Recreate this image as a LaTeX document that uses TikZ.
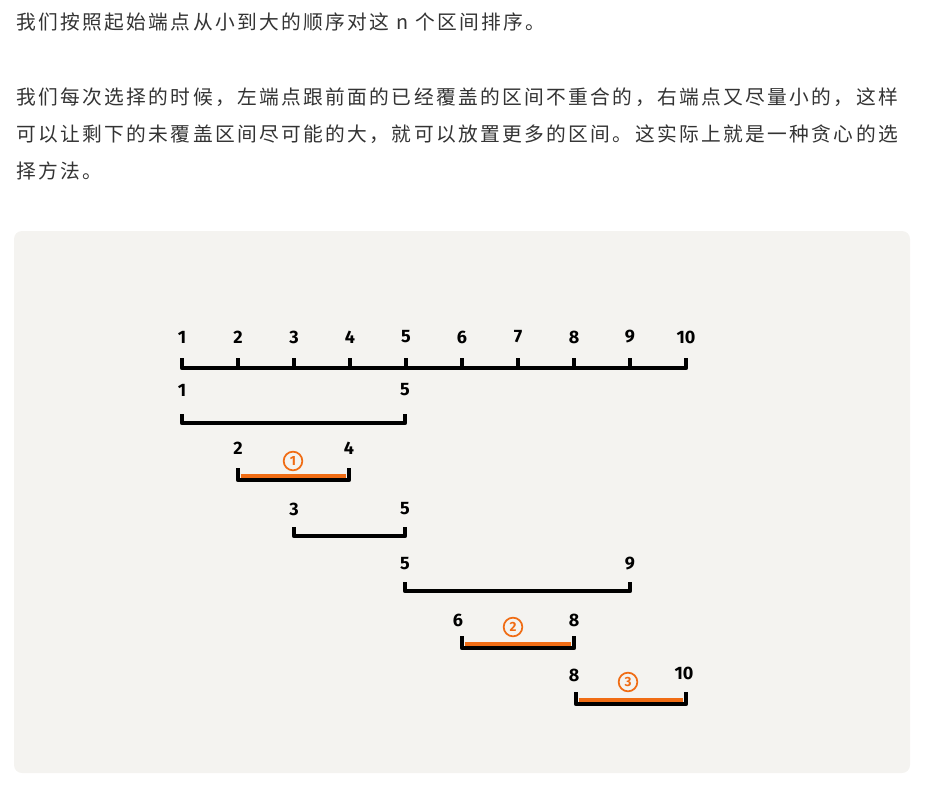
\documentclass[tikz,border=0pt]{standalone}
\usepackage{fontspec}
\newfontfamily\cjk[LetterSpace=12]{Noto Sans CJK SC}
\newfontfamily\hand{Fira Sans}
\usetikzlibrary{positioning}
\definecolor{paneltint}{RGB}{244,243,240}
\definecolor{markorange}{RGB}{240,108,20}
\definecolor{textgray}{RGB}{51,51,51}

\begin{document}
\begin{tikzpicture}[
    x=0.75pt, y=-0.75pt,
    para/.style={anchor=base west, inner sep=0pt, text=textgray, font=\cjk\fontsize{14.8pt}{17pt}\selectfont},
    numlabel/.style={inner sep=0pt, font=\hand\bfseries\fontsize{13.5pt}{13.5pt}\selectfont},
    blackbar/.style={line width=3.3pt, line join=round},
    orangebar/.style={line width=3.3pt, draw=markorange},
    circnum/.style={circle, draw=markorange, text=markorange, line width=1.3pt, minimum size=14pt, inner sep=0pt, font=\hand\bfseries\fontsize{10pt}{10pt}\selectfont}
]
    \useasboundingbox (0,0) rectangle (932,796);

    % text above the figure
    \node[para] (intro) at (16,29) {我们按照起始端点从小到大的顺序对这 n 个区间排序。};
    \node[para] (pick1) at (16,104) {我们每次选择的时候，左端点跟前面的已经覆盖的区间不重合的，右端点又尽量小的，这样};
    \node[para] (pick2) at (16,141) {可以让剩下的未覆盖区间尽可能的大，就可以放置更多的区间。这实际上就是一种贪心的选};
    \node[para] (pick3) at (16,178) {择方法。};

    \fill[paneltint, rounded corners=6pt] (14,231) rectangle (910,773);

    % number line 1..10
    \coordinate (ax1) at (182,368);
    \coordinate (ax10) at (686,368);
    \draw[blackbar] (ax1) ++(0,-10) -- (ax1) -- (ax10) -- ++(0,-10);
    \foreach \i in {1,...,10} {
        \draw[blackbar] (182+56*\i-56,368) -- ++(0,-10);
        \node[numlabel] (lab\i) at (182+56*\i-56,337) {\i};
    }

    % [1,5]
    \coordinate (onea) at (182,423);
    \coordinate (oneb) at (405,423);
    \node[numlabel, above=20pt of onea] (onel) {1};
    \node[numlabel, above=20pt of oneb] (oner) {5};
    \draw[blackbar] (onea) ++(0,-9) -- (onea) -- (oneb) -- ++(0,-9);

    % [2,4] chosen first
    \coordinate (twoa) at (238,480);
    \coordinate (twob) at (349,480);
    \node[numlabel] (twol) at (238,448) {2};
    \node[numlabel] (twor) at (349,448) {4};
    \draw[blackbar] (twoa) ++(0,-12) -- (twoa) -- (twob) -- ++(0,-12);
    \draw[orangebar] ([xshift=2pt,yshift=3pt]twoa) -- ([xshift=-2pt,yshift=3pt]twob);
    \node[circnum] (pickone) at (293,461) {1};

    % [3,5]
    \coordinate (threea) at (294,536);
    \coordinate (threeb) at (405,536);
    \node[numlabel] (threel) at (294,509) {3};
    \node[numlabel] (threer) at (405,509) {5};
    \draw[blackbar] (threea) ++(0,-9) -- (threea) -- (threeb) -- ++(0,-9);

    % [5,9]
    \coordinate (foura) at (405,591);
    \coordinate (fourb) at (630,591);
    \node[numlabel] (fourl) at (405,564) {5};
    \node[numlabel] (fourr) at (630,564) {9};
    \draw[blackbar] (foura) ++(0,-9) -- (foura) -- (fourb) -- ++(0,-9);

    % [6,8] chosen second
    \coordinate (fivea) at (462,648);
    \coordinate (fiveb) at (574,648);
    \node[numlabel] (fivel) at (458,620) {6};
    \node[numlabel] (fiver) at (574,620) {8};
    \draw[blackbar] (fivea) ++(0,-12) -- (fivea) -- (fiveb) -- ++(0,-12);
    \draw[orangebar] ([xshift=2pt,yshift=3pt]fivea) -- ([xshift=-2pt,yshift=3pt]fiveb);
    \node[circnum] (picktwo) at (513,627) {2};

    % [8,10] chosen third
    \coordinate (sixa) at (576,704);
    \coordinate (sixb) at (686,704);
    \node[numlabel] (sixl) at (574,675) {8};
    \node[numlabel] (sixr) at (684,673) {10};
    \draw[blackbar] (sixa) ++(0,-12) -- (sixa) -- (sixb) -- ++(0,-12);
    \draw[orangebar] ([xshift=2pt,yshift=3pt]sixa) -- ([xshift=-2pt,yshift=3pt]sixb);
    \node[circnum] (pickthree) at (628,682) {3};
\end{tikzpicture}
\end{document}
